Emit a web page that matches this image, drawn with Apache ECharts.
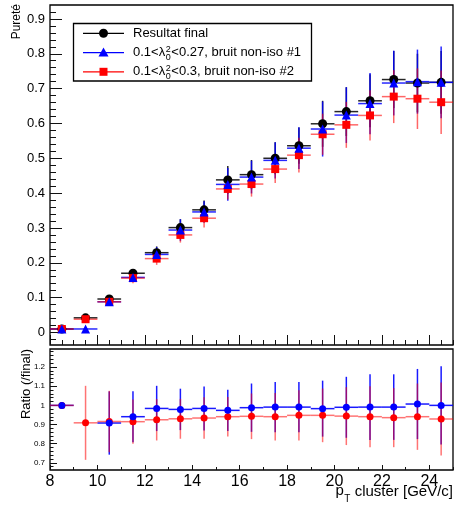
<!DOCTYPE html>
<html><head><meta charset="utf-8">
<script src="https://cdn.jsdelivr.net/npm/echarts@6/dist/echarts.min.js"></script>
<style>html,body{margin:0;padding:0;background:#fff}#c{width:454px;height:514px}</style>
</head><body><div id="c"></div>
<script>
// ---------------- DATA ----------------
const binCenters = [8.5, 9.5, 10.5, 11.5, 12.5, 13.5, 14.5, 15.5, 16.5, 17.5, 18.5, 19.5, 20.5, 21.5, 22.5, 23.5, 24.5];
const binHalfWidth = 0.5;

const purityFinal    = [0.010, 0.042, 0.096, 0.170, 0.229, 0.301, 0.352, 0.438, 0.453, 0.500, 0.536, 0.599, 0.634, 0.665, 0.726, 0.716, 0.718];
const purityFinalErr = [0.003, 0.004, 0.006, 0.010, 0.018, 0.024, 0.027, 0.040, 0.042, 0.046, 0.052, 0.066, 0.070, 0.076, 0.082, 0.084, 0.090];

const purityIso1     = [0.010, 0.010, 0.088, 0.158, 0.224, 0.294, 0.346, 0.425, 0.446, 0.494, 0.529, 0.584, 0.624, 0.657, 0.716, 0.720, 0.718];
const purityIso1Err  = [0.003, 0.003, 0.006, 0.012, 0.021, 0.031, 0.031, 0.047, 0.047, 0.052, 0.060, 0.079, 0.080, 0.088, 0.093, 0.092, 0.103];

const purityIso2     = [0.010, 0.038, 0.088, 0.156, 0.212, 0.280, 0.328, 0.412, 0.426, 0.469, 0.509, 0.569, 0.596, 0.623, 0.677, 0.671, 0.661];
const purityIso2Err  = [0.003, 0.004, 0.006, 0.015, 0.018, 0.022, 0.027, 0.030, 0.036, 0.040, 0.050, 0.059, 0.066, 0.072, 0.076, 0.087, 0.091];

const ratioIso1      = [1.000, null, 0.908, 0.941, 0.984, 0.979, 0.984, 0.974, 0.988, 0.991, 0.991, 0.983, 0.990, 0.991, 0.991, 1.007, 1.000];
const ratioIso1Err   = [0.000, null, 0.165, 0.133, 0.118, 0.108, 0.115, 0.108, 0.126, 0.131, 0.131, 0.146, 0.159, 0.171, 0.171, 0.183, 0.204];
const ratioIso2      = [1.000, 0.909, 0.916, 0.915, 0.925, 0.930, 0.934, 0.941, 0.943, 0.941, 0.948, 0.948, 0.944, 0.941, 0.936, 0.941, 0.929];
const ratioIso2Err   = [0.000, 0.193, 0.160, 0.115, 0.108, 0.104, 0.108, 0.103, 0.119, 0.124, 0.131, 0.140, 0.151, 0.159, 0.154, 0.173, 0.190];

const xTickLabels   = [8, 10, 12, 14, 16, 18, 20, 22, 24];
const yTopTicks     = [0, 0.1, 0.2, 0.3, 0.4, 0.5, 0.6, 0.7, 0.8, 0.9];
const yRatioTicks   = [0.7, 0.8, 0.9, 1.0, 1.1, 1.2];

const legendLabels = ['Resultat final', ['0.1<\u03bb', '2', '0', '<0.27, bruit non-iso #1'], ['0.1<\u03bb', '2', '0', '<0.3, bruit non-iso #2']];
const yTitleTop = 'Pureté';
const yTitleRatio = 'Ratio (/final)';
const xTitle = ['p', 'T', ' cluster [GeV/c]'];

// ---------------- HELPERS ----------------
const FONT = '"Liberation Sans", Arial, Helvetica, sans-serif';
function minorTicks(start, end, step, majorStep) {
  const out = [];
  const n = Math.round((end - start) / step);
  for (let i = 0; i <= n; i++) {
    const v = +(start + i * step).toFixed(6);
    const r = v / majorStep;
    if (Math.abs(r - Math.round(r)) > 1e-6) out.push(v);
  }
  return out;
}
const mctx = document.createElement('canvas').getContext('2d');
function textW(s, size) { mctx.font = size + 'px ' + FONT; return mctx.measureText(s).width; }

function pack(vals, errs) {
  const out = [];
  binCenters.forEach((x, i) => { if (vals[i] != null) out.push([x, vals[i], errs[i]]); });
  return out;
}

function errSeries(name, xi, yi, vals, errs, color, width, opacity) {
  return {
    type: 'custom', name, xAxisIndex: xi, yAxisIndex: yi, clip: true,
    encode: { x: 0, y: 1 },
    data: pack(vals, errs),
    renderItem: function (params, api) {
      const x = api.value(0), y = api.value(1), e = api.value(2);
      const l = api.coord([x - binHalfWidth, y]);
      const r = api.coord([x + binHalfWidth, y]);
      const t = api.coord([x, y + e]);
      const b = api.coord([x, y - e]);
      const st = { stroke: color, lineWidth: width, opacity: opacity };
      return { type: 'group', children: [
        { type: 'line', shape: { x1: l[0], y1: l[1], x2: r[0], y2: r[1] }, style: st },
        { type: 'line', shape: { x1: t[0], y1: t[1], x2: b[0], y2: b[1] }, style: st }
      ] };
    }
  };
}
function markSeries(name, xi, yi, vals, errs, color, symbol, size) {
  return {
    type: 'scatter', name, xAxisIndex: xi, yAxisIndex: yi,
    symbol, symbolSize: size,
    itemStyle: { color: color, opacity: 1 },
    data: pack(vals, errs)
  };
}

const tickColor = '#111';
function xAxisDef(grid, ticks, len, labels) {
  return {
    gridIndex: grid, type: 'value', min: 8, max: 25, position: 'bottom',
    axisLine: { show: false, onZero: false }, splitLine: { show: false },
    axisTick: { show: true, inside: true, length: len, customValues: ticks, lineStyle: { color: tickColor, width: 1 } },
    axisLabel: labels ? { show: true, customValues: ticks, margin: 4, fontSize: 16, color: '#000', fontFamily: FONT } : { show: false }
  };
}
function yAxisDef(grid, min, max, ticks, len, labels, fs) {
  return {
    gridIndex: grid, type: 'value', min, max, position: 'left',
    axisLine: { show: false, onZero: false }, splitLine: { show: false },
    axisTick: { show: true, inside: true, length: len, customValues: ticks, lineStyle: { color: tickColor, width: 1 } },
    axisLabel: labels ? { show: true, customValues: ticks, margin: 5, fontSize: fs, color: '#000', fontFamily: FONT,
      formatter: v => String(+(+v).toFixed(2)) } : { show: false }
  };
}

// ---------------- GRAPHICS: legend & titles ----------------
const graphics = [];
const lg = { x: 73.5, y: 23.5, w: 238, h: 57.5 };
graphics.push({ type: 'rect', shape: { x: lg.x, y: lg.y, width: lg.w, height: lg.h }, style: { fill: '#fff', stroke: '#000', lineWidth: 1.3 }, z: 100 });
const rowsY = [33.3, 52.6, 71.8];
const rowColors = ['#000', '#0000ff', '#ff0000'];
rowsY.forEach((ry, i) => {
  graphics.push({ type: 'line', shape: { x1: 83, y1: ry, x2: 124, y2: ry }, style: { stroke: rowColors[i], lineWidth: 1.3 }, z: 101 });
  if (i === 0) graphics.push({ type: 'circle', shape: { cx: 103.5, cy: ry, r: 4.5 }, style: { fill: '#000' }, z: 102 });
  if (i === 1) graphics.push({ type: 'polygon', shape: { points: [[103.5, ry - 5], [108.5, ry + 4], [98.5, ry + 4]] }, style: { fill: '#0000ff' }, z: 102 });
  if (i === 2) graphics.push({ type: 'rect', shape: { x: 99.5, y: ry - 4, width: 8, height: 8 }, style: { fill: '#ff0000' }, z: 102 });
  const lab = legendLabels[i];
  const tx = 133;
  const ts = { font: '13px ' + FONT, fill: '#000', verticalAlign: 'middle', align: 'left' };
  if (typeof lab === 'string') {
    graphics.push({ type: 'text', x: tx, y: ry, style: Object.assign({ text: lab }, ts), z: 102 });
  } else {
    const w1 = textW(lab[0], 13);
    graphics.push({ type: 'text', x: tx, y: ry, style: Object.assign({ text: lab[0] }, ts), z: 102 });
    graphics.push({ type: 'text', x: tx + w1 + 0.5, y: ry - 3.5, style: Object.assign({}, ts, { text: lab[1], font: '9px ' + FONT }), z: 102 });
    graphics.push({ type: 'text', x: tx + w1 + 0.5, y: ry + 5, style: Object.assign({}, ts, { text: lab[2], font: '9px ' + FONT }), z: 102 });
    const w2 = textW('2', 9);
    graphics.push({ type: 'text', x: tx + w1 + w2 + 1.2, y: ry, style: Object.assign({ text: lab[3] }, ts), z: 102 });
  }
});
// y titles
graphics.push({ type: 'text', x: 17, y: 4, rotation: Math.PI / 2,
  style: { text: yTitleTop, font: '12px ' + FONT, fill: '#000', align: 'right', verticalAlign: 'middle' } });
graphics.push({ type: 'text', x: 26, y: 349, rotation: Math.PI / 2,
  style: { text: yTitleRatio, font: '13px ' + FONT, fill: '#000', align: 'right', verticalAlign: 'middle' } });
// x title
(function () {
  const right = 453;
  const wMain = textW(xTitle[2], 15);
  const wT = textW(xTitle[1], 10);
  graphics.push({ type: 'text', x: right, y: 492, style: { text: xTitle[2], font: '15px ' + FONT, fill: '#000', align: 'right', verticalAlign: 'middle' } });
  graphics.push({ type: 'text', x: right - wMain, y: 499, style: { text: xTitle[1], font: '10px ' + FONT, fill: '#000', align: 'right', verticalAlign: 'middle' } });
  graphics.push({ type: 'text', x: right - wMain - wT - 0.5, y: 491, style: { text: xTitle[0], font: '15px ' + FONT, fill: '#000', align: 'right', verticalAlign: 'middle' } });
})();

// ---------------- OPTION ----------------
const option = {
  animation: false,
  backgroundColor: '#fff',
  textStyle: { fontFamily: FONT },
  grid: [
    { left: 50, top: 5, width: 403, height: 340, show: true, borderColor: '#000', borderWidth: 1.3, backgroundColor: 'transparent' },
    { left: 50, top: 349, width: 403, height: 121, show: true, borderColor: '#000', borderWidth: 1.3, backgroundColor: 'transparent' }
  ],
  xAxis: [
    xAxisDef(0, xTickLabels, 10, false),
    xAxisDef(0, minorTicks(8, 25, 0.5, 2), 5, false),
    xAxisDef(1, xTickLabels, 5, true),
    xAxisDef(1, minorTicks(8, 25, 1, 2), 3, false)
  ],
  yAxis: [
    yAxisDef(0, -0.036, 0.94, yTopTicks, 12, true, 13),
    yAxisDef(0, -0.036, 0.94, minorTicks(-0.02, 0.92, 0.02, 0.1), 6, false),
    yAxisDef(1, 0.663, 1.294, yRatioTicks, 7, true, 8),
    yAxisDef(1, 0.663, 1.294, minorTicks(0.68, 1.28, 0.02, 0.1), 3.5, false)
  ],
  graphic: graphics,
  series: [
    errSeries('finalErr', 0, 0, purityFinal, purityFinalErr, '#000', 1.5, 0.85),
    errSeries('iso1Err', 0, 0, purityIso1, purityIso1Err, '#0000ff', 1.5, 0.85),
    errSeries('iso2Err', 0, 0, purityIso2, purityIso2Err, '#ff0000', 1.5, 0.6),
    markSeries('Resultat final', 0, 0, purityFinal, purityFinalErr, '#000', 'circle', 9),
    markSeries('iso2', 0, 0, purityIso2, purityIso2Err, '#ff0000', 'rect', 8),
    markSeries('iso1', 0, 0, purityIso1, purityIso1Err, '#0000ff', 'triangle', 9),

    errSeries('r1Err', 2, 2, ratioIso1, ratioIso1Err, '#0000ff', 1.5, 0.9),
    errSeries('r2Err', 2, 2, ratioIso2, ratioIso2Err, '#ff0000', 1.5, 0.55),
    markSeries('r2', 2, 2, ratioIso2, ratioIso2Err, '#ff0000', 'circle', 7),
    markSeries('r1', 2, 2, ratioIso1, ratioIso1Err, '#0000ff', 'circle', 7)
  ]
};
const chart = echarts.init(document.getElementById('c'), null, { renderer: 'canvas', width: 454, height: 514 });
chart.setOption(option);
</script>
</body></html>
